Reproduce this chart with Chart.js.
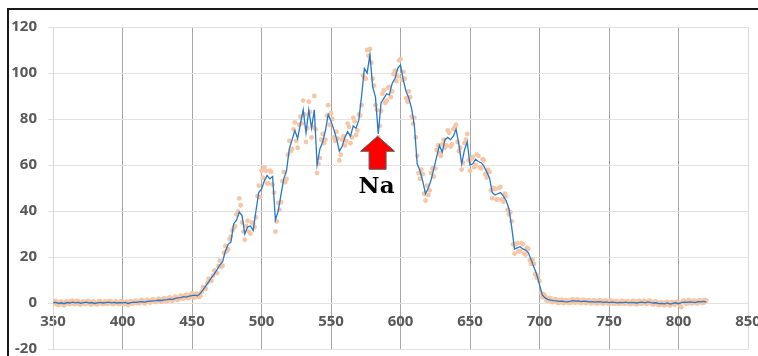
<!DOCTYPE html>
<html>
<head>
<meta charset="utf-8">
<script src="https://cdn.jsdelivr.net/npm/chart.js@4.4.1/dist/chart.umd.min.js"></script>
<style>
  html, body { margin: 0; padding: 0; background: #fff; overflow: hidden; }
  #frame { position: absolute; left: 7px; top: 8px; width: 790px; height: 390px; border: 2px solid #1a1a1a; }
  #chart { position: absolute; left: 0; top: 0; }
</style>
</head>
<body>
<div id="frame"></div>
<canvas id="chart" width="758" height="356"></canvas>
<script>
// wavelength (nm), even samples
const wavelength = [
  350, 352, 354, 356, 358, 360, 362, 364, 366, 368,
  370, 372, 374, 376, 378, 380, 382, 384, 386, 388,
  390, 392, 394, 396, 398, 400, 402, 404, 406, 408,
  410, 412, 414, 416, 418, 420, 422, 424, 426, 428,
  430, 432, 434, 436, 438, 440, 442, 444, 446, 448,
  450, 452, 454, 456, 458, 460, 462, 464, 466, 468,
  470, 472, 474, 476, 478, 480, 482, 484, 486, 488,
  490, 492, 494, 496, 498, 500, 502, 504, 506, 508,
  510, 512, 514, 516, 518, 520, 522, 524, 526, 528,
  530, 532, 534, 536, 538, 540, 542, 544, 546, 548,
  550, 552, 554, 556, 558, 560, 562, 564, 566, 568,
  570, 572, 574, 576, 578, 580, 582, 584, 586, 588,
  590, 592, 594, 596, 598, 600, 602, 604, 606, 608,
  610, 612, 614, 616, 618, 620, 622, 624, 626, 628,
  630, 632, 634, 636, 638, 640, 642, 644, 646, 648,
  650, 652, 654, 656, 658, 660, 662, 664, 666, 668,
  670, 672, 674, 676, 678, 680, 682, 684, 686, 688,
  690, 692, 694, 696, 698, 700, 702, 704, 706, 708,
  710, 712, 714, 716, 718, 720, 722, 724, 726, 728,
  730, 732, 734, 736, 738, 740, 742, 744, 746, 748,
  750, 752, 754, 756, 758, 760, 762, 764, 766, 768,
  770, 772, 774, 776, 778, 780, 782, 784, 786, 788,
  790, 792, 794, 796, 798, 800, 802, 804, 806, 808,
  810, 812, 814, 816, 818, 820
];

// raw points at the even wavelengths (orange dots)
const measured = [
  -0.4, 0.9, -0.8, 0.6, -1.0, 0.7, -0.5, 1.0, -0.4, 0.8,
  -0.7, 0.6, -0.2, 0.5, -0.5, 0.4, -0.6, 0.9, -0.5, 0.7,
  -0.1, 0.6, -0.3, 0.5, -0.4, 0.6, -0.3, -0.9, 0.8, -0.2,
  0.9, -0.1, 1.2, -0.2, 1.3, 0.2, 1.6, 0.4, 1.9, 0.5,
  2.1, 0.8, 2.4, 1.0, 2.8, 1.4, 3.2, 1.9, 3.6, 2.1,
  4.2, 2.4, 4.0, 3.0, 6.9, 6.2, 10.6, 9.6, 14.2, 13.0,
  18.4, 16.2, 24.8, 23.4, 28.9, 32.6, 38.5, 45.5, 35.0, 27.5,
  35.8, 30.2, 34.6, 37.2, 51.0, 57.5, 59.0, 52.0, 57.5, 51.5,
  31.0, 43.5, 43.8, 57.0, 54.0, 70.5, 67.0, 78.5, 67.5, 81.0,
  88.0, 70.0, 87.5, 72.0, 90.0, 56.5, 63.0, 73.5, 71.0, 86.0,
  82.5, 72.0, 74.5, 62.0, 71.0, 68.5, 78.0, 69.5, 80.5, 73.0,
  82.0, 86.0, 98.0, 110.0, 110.5, 97.5, 86.0, 72.0, 83.5, 92.5,
  88.0, 94.0, 92.0, 101.0, 98.5, 106.0, 100.5, 89.0, 92.0, 81.0,
  80.5, 64.0, 54.0, 56.0, 44.5, 47.0, 56.5, 55.0, 66.5, 65.0,
  69.0, 67.5, 75.0, 68.0, 75.5, 77.5, 66.0, 58.0, 69.5, 73.5,
  57.5, 63.5, 60.0, 64.0, 58.5, 62.0, 54.5, 57.0, 45.5, 49.5,
  45.0, 50.5, 44.0, 46.5, 38.5, 35.5, 21.5, 26.0, 22.5, 25.5,
  21.0, 23.5, 17.0, 17.0, 11.0, 9.5, 2.5, 3.0, 0.9, 2.0,
  0.4, 1.6, 0.1, 1.4, 0.0, 1.1, 0.1, 1.6, 0.2, 1.5,
  0.0, 1.4, 0.1, 1.1, 0.0, 1.0, -0.1, 1.1, -0.3, 1.0,
  -0.4, 0.9, -0.3, 0.7, -0.3, 0.8, -0.2, 0.7, -0.4, 0.8,
  -0.6, 0.9, -0.2, 0.7, -0.1, 0.8, -0.6, 0.6, -0.9, 0.4,
  -1.0, 0.5, -1.1, 0.4, -0.5, 0.3, -1.8, 1.0, -0.3, 1.1,
  -0.2, 0.8, 0.0, 1.1, 0.1, 1.0
];

// wavelength (nm), odd samples
const wavelengthOdd = [
  351, 353, 355, 357, 359, 361, 363, 365, 367, 369,
  371, 373, 375, 377, 379, 381, 383, 385, 387, 389,
  391, 393, 395, 397, 399, 401, 403, 405, 407, 409,
  411, 413, 415, 417, 419, 421, 423, 425, 427, 429,
  431, 433, 435, 437, 439, 441, 443, 445, 447, 449,
  451, 453, 455, 457, 459, 461, 463, 465, 467, 469,
  471, 473, 475, 477, 479, 481, 483, 485, 487, 489,
  491, 493, 495, 497, 499, 501, 503, 505, 507, 509,
  511, 513, 515, 517, 519, 521, 523, 525, 527, 529,
  531, 533, 535, 537, 539, 541, 543, 545, 547, 549,
  551, 553, 555, 557, 559, 561, 563, 565, 567, 569,
  571, 573, 575, 577, 579, 581, 583, 585, 587, 589,
  591, 593, 595, 597, 599, 601, 603, 605, 607, 609,
  611, 613, 615, 617, 619, 621, 623, 625, 627, 629,
  631, 633, 635, 637, 639, 641, 643, 645, 647, 649,
  651, 653, 655, 657, 659, 661, 663, 665, 667, 669,
  671, 673, 675, 677, 679, 681, 683, 685, 687, 689,
  691, 693, 695, 697, 699, 701, 703, 705, 707, 709,
  711, 713, 715, 717, 719, 721, 723, 725, 727, 729,
  731, 733, 735, 737, 739, 741, 743, 745, 747, 749,
  751, 753, 755, 757, 759, 761, 763, 765, 767, 769,
  771, 773, 775, 777, 779, 781, 783, 785, 787, 789,
  791, 793, 795, 797, 799, 801, 803, 805, 807, 809,
  811, 813, 815, 817, 819
];

// raw points at the odd wavelengths
const measuredOdd = [
  0.7, -0.6, 0.4, -0.7, 0.5, -0.3, 0.8, -0.4, 0.9, -0.5,
  0.6, -0.4, 0.9, -0.6, 0.7, -0.5, 0.8, -0.3, 0.6, -0.4,
  0.8, -0.5, 0.7, -0.4, 0.8, -0.5, 0.6, 0.5, -0.3, 0.9,
  -0.1, 1.0, 0.1, 1.1, 0.3, 1.3, 0.5, 1.5, 0.7, 1.7,
  0.9, 2.1, 1.1, 2.3, 1.5, 2.8, 1.8, 3.3, 2.1, 3.6,
  2.6, 4.0, 2.6, 4.9, 6.3, 8.8, 9.9, 11.9, 13.1, 16.0,
  15.8, 21.8, 22.5, 27.8, 31.5, 33.4, 39.8, 42.5, 31.0, 33.5,
  31.0, 35.0, 33.0, 46.5, 46.0, 54.5, 57.5, 52.0, 57.0, 48.0,
  35.5, 40.5, 53.0, 52.5, 64.5, 66.0, 75.5, 70.5, 77.5, 78.0,
  82.0, 76.0, 83.0, 76.5, 75.5, 60.5, 71.0, 69.5, 81.5, 77.5,
  80.0, 70.5, 71.5, 64.5, 72.5, 70.5, 76.5, 72.0, 79.0, 75.0,
  81.5, 99.0, 97.5, 107.5, 104.5, 94.5, 84.0, 77.0, 91.0, 87.0,
  93.5, 89.5, 99.5, 96.5, 105.5, 97.0, 97.5, 87.5, 89.5, 78.0,
  72.0, 56.5, 58.0, 47.5, 51.0, 49.0, 58.5, 58.5, 68.5, 64.0,
  71.0, 68.5, 74.0, 69.0, 76.5, 70.0, 67.5, 61.0, 71.0, 62.0,
  62.5, 59.0, 64.5, 59.0, 62.5, 56.0, 58.0, 49.0, 50.0, 45.0,
  50.0, 45.0, 47.5, 40.5, 39.5, 25.5, 25.5, 22.5, 26.0, 21.5,
  24.0, 18.5, 18.8, 12.5, 11.8, 4.5, 3.8, 1.1, 2.2, 0.4,
  1.6, 0.1, 1.4, 0.0, 1.2, 0.0, 1.5, 0.2, 1.5, 0.1,
  1.3, 0.0, 1.2, -0.1, 1.1, -0.2, 1.1, -0.1, 1.0, -0.2,
  1.0, -0.3, 0.8, -0.4, 0.9, -0.3, 0.8, -0.5, 0.9, -0.4,
  0.8, -0.3, 0.9, -0.4, 1.0, -0.5, 0.6, -0.7, 0.4, -0.8,
  0.3, -0.9, 0.4, -0.8, 0.6, -0.9, 0.9, -0.2, 1.1, -0.1,
  1.0, -0.2, 1.2, 0.0, 1.3
];

// smoothed curve at the even wavelengths (blue line)
const smoothed = [
  0.2, 0.3, -0.2, 0.1, -0.3, 0.2, 0.0, 0.4, 0.1, 0.3,
  -0.1, 0.2, 0.4, 0.0, 0.2, -0.2, 0.1, 0.3, 0.0, 0.2,
  0.4, 0.1, 0.3, 0.0, 0.2, 0.1, 0.3, -0.2, 0.2, 0.4,
  0.3, 0.5, 0.6, 0.4, 0.7, 0.8, 0.9, 1.0, 1.2, 1.1,
  1.4, 1.5, 1.7, 1.6, 2.0, 2.2, 2.3, 2.8, 2.6, 3.0,
  3.2, 3.4, 3.1, 4.2, 5.8, 7.5, 9.2, 11.0, 12.6, 14.5,
  16.5, 18.0, 22.5, 25.5, 26.5, 34.5, 36.0, 39.5, 38.0, 30.0,
  33.0, 33.5, 31.5, 40.0, 48.0, 49.5, 53.0, 55.5, 54.0, 55.0,
  36.0, 40.0, 47.0, 54.0, 57.5, 67.0, 71.0, 75.0, 71.5, 78.0,
  84.0, 74.0, 84.0, 76.0, 84.0, 60.0, 67.0, 70.0, 75.0, 82.0,
  79.0, 75.5, 71.5, 66.0, 68.0, 72.0, 74.5, 72.5, 77.0, 76.0,
  79.5, 90.0, 102.0, 100.0, 108.0, 94.0, 89.5, 73.5, 87.0, 89.0,
  91.0, 90.5, 95.5, 97.5, 102.0, 103.5, 97.0, 92.0, 89.0, 84.5,
  77.0, 60.5, 57.5, 53.0, 47.5, 50.0, 53.5, 58.5, 63.5, 68.5,
  65.5, 71.0, 72.0, 71.0, 72.5, 75.5, 69.0, 60.5, 66.5, 70.0,
  60.0, 60.5, 62.5, 61.5, 61.0, 59.5, 57.0, 54.5, 48.0, 47.0,
  47.5, 48.0, 46.5, 44.5, 41.0, 33.0, 23.5, 24.0, 24.5, 23.5,
  23.0, 21.8, 18.8, 15.5, 12.5, 8.0, 3.5, 2.2, 1.6, 1.2,
  1.0, 0.9, 0.7, 0.8, 0.6, 0.5, 0.7, 1.0, 0.8, 0.9,
  0.6, 0.8, 0.7, 0.5, 0.6, 0.4, 0.6, 0.5, 0.3, 0.5,
  0.2, 0.4, 0.3, 0.1, 0.3, 0.2, 0.4, 0.1, 0.3, 0.2,
  0.0, 0.3, 0.4, 0.1, 0.5, 0.2, 0.0, 0.1, -0.3, -0.2,
  -0.4, 0.0, -0.5, -0.2, 0.1, -0.3, 0.2, 0.4, 0.3, 0.5,
  0.4, 0.2, 0.6, 0.5, 0.7, 0.4
];

// axis ranges: [min, max, step]
const xTicks = [350, 850, 50];
const yTicks = [-20, 120, 20];

// Na absorption marker: [wavelength, value at arrow tip]
const naLabel = 'Na';
const naPoint = [583.5, 72.5];

const tickFont = { family: 'Noto Sans', size: 15, weight: 'bold' };
const tickColor = '#595959';

// red arrow + "Na" under the dip
const naMarker = {
  id: 'naMarker',
  afterDatasetsDraw(chart) {
    const { ctx, scales } = chart;
    const x = scales.x.getPixelForValue(naPoint[0]);
    const y = scales.y.getPixelForValue(naPoint[1]);
    ctx.save();
    ctx.beginPath();
    ctx.moveTo(x, y);
    ctx.lineTo(x + 17, y + 15);
    ctx.lineTo(x + 8.5, y + 15);
    ctx.lineTo(x + 8.5, y + 33);
    ctx.lineTo(x - 8.5, y + 33);
    ctx.lineTo(x - 8.5, y + 15);
    ctx.lineTo(x - 17, y + 15);
    ctx.closePath();
    ctx.fillStyle = '#ff0000';
    ctx.fill();
    ctx.strokeStyle = '#5a5a5a';
    ctx.lineWidth = 1;
    ctx.stroke();
    ctx.font = 'bold 23px "DejaVu Serif"';
    ctx.fillStyle = '#000';
    ctx.textAlign = 'center';
    ctx.textBaseline = 'alphabetic';
    ctx.fillText(naLabel, x - 1, y + 57);
    ctx.restore();
  }
};

const dots = wavelength.map((w, i) => ({ x: w, y: measured[i] }))
  .concat(wavelengthOdd.map((w, i) => ({ x: w, y: measuredOdd[i] })));

const ctx = document.getElementById('chart').getContext('2d');
new Chart(ctx, {
  type: 'scatter',
  data: {
    datasets: [
      {
        label: 'smoothed',
        data: wavelength.map((w, i) => ({ x: w, y: smoothed[i] })),
        showLine: true,
        borderColor: '#2a78c6',
        borderWidth: 1.3,
        pointRadius: 0,
        tension: 0,
        order: 0
      },
      {
        label: 'measured',
        data: dots,
        showLine: false,
        pointRadius: 2.4,
        pointBackgroundColor: '#f7c6a4',
        pointBorderWidth: 0,
        order: 1
      }
    ]
  },
  options: {
    responsive: false,
    animation: false,
    devicePixelRatio: 1,
    layout: { padding: { left: 0, top: 27, right: 10, bottom: 7 } },
    plugins: { legend: { display: false }, tooltip: { enabled: false } },
    scales: {
      x: {
        type: 'linear',
        min: xTicks[0],
        max: xTicks[1],
        position: { y: 0 },
        ticks: { stepSize: xTicks[2], autoSkip: false, maxRotation: 0, color: tickColor, font: tickFont, padding: 10 },
        grid: {
          drawTicks: false,
          color: c => (c.tick && (c.tick.value === xTicks[0] || c.tick.value === xTicks[1])) ? '#d9d9d9' : '#a6a6a6'
        },
        border: { display: false },
        afterFit(scale) { scale.paddingLeft = 0; scale.paddingRight = 0; }
      },
      y: {
        min: yTicks[0],
        max: yTicks[1],
        ticks: { stepSize: yTicks[2], color: tickColor, font: tickFont, padding: 11 },
        grid: { color: '#e2e2e2', tickLength: 5 },
        border: { color: '#d9d9d9' },
        afterFit(scale) { scale.width = 53; scale.paddingTop = 0; scale.paddingBottom = 0; }
      }
    }
  },
  plugins: [naMarker]
});
</script>
</body>
</html>
